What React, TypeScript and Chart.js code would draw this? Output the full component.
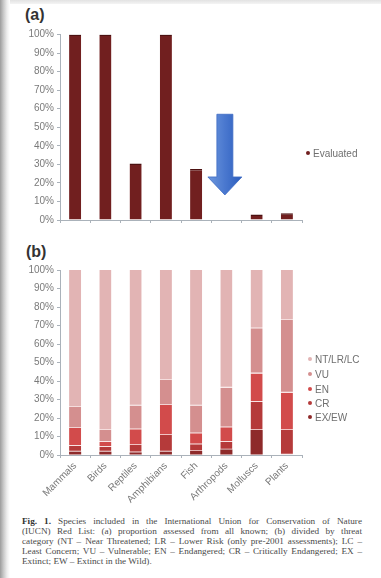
import React, { useEffect, useRef } from "react";
import { Chart, registerables } from "chart.js";

Chart.register(...registerables);

// ---- data ----
const categories = ["Mammals", "Birds", "Reptiles", "Amphibians", "Fish", "Arthropods", "Molluscs", "Plants"];
const evaluatedPct = [100, 100, 30.5, 100, 27.5, 0.3, 3.0, 3.6];

const exEwPct = [1.8, 1.8, 1.4, 1.8, 2.2, 3.0, 13.5, 0.3];
const crPct = [3.2, 2.7, 4.0, 9.0, 3.6, 4.2, 15.3, 13.2];
const enPct = [9.6, 2.7, 8.5, 16.2, 5.9, 7.8, 15.3, 20.2];
const vuPct = [11.3, 6.3, 12.8, 13.5, 15.0, 21.4, 24.4, 39.3];
const ntLrLcPct = [74.1, 86.5, 73.3, 59.5, 73.3, 63.6, 31.5, 27.0];

const threatLabels = ["EX/EW", "CR", "EN", "VU", "NT/LR/LC"];
const threatColors = ["#8e2a2a", "#b53a3a", "#d24b4b", "#d48f8f", "#e2b4b4"];
const evaluatedLabel = "Evaluated";
const evaluatedColor = "#711f1f";

const yTicksMax = 100;
const yTicksStep = 10;

// annotation arrow (pointing at Arthropods in panel a)
const arrowCategory = "Arthropods";
const arrowFromPct = 57;
const arrowToPct = 13.5;

const captionLines = [
  "Species included in the International Union for Conservation of Nature",
  "(IUCN) Red List: (a) proportion assessed from all known; (b) divided by threat",
  "category (NT – Near Threatened; LR – Lower Risk (only pre-2001 assessments); LC –",
  "Least Concern; VU – Vulnerable; EN – Endangered; CR – Critically Endangered; EX –",
  "Extinct; EW – Extinct in the Wild).",
];

const TICK_FONT = { family: "'Liberation Sans', Arial, sans-serif", size: 10 };
const TICK_COLOR = "#7a7a7a";
const AXIS_COLOR = "#aab2ba";

const arrowPlugin = {
  id: "arrowNote",
  afterDatasetsDraw(chart: any) {
    const { ctx } = chart;
    const x = chart.scales.x;
    const y = chart.scales.y;
    const cx = x.getPixelForValue(categories.indexOf(arrowCategory)) - 1.5;
    const top = y.getPixelForValue(arrowFromPct);
    const tip = y.getPixelForValue(arrowToPct);
    const headTop = tip - 18;
    const sh = 8;
    const hh = 17;
    ctx.save();
    const g = ctx.createLinearGradient(cx - hh, 0, cx + hh, 0);
    g.addColorStop(0, "#6e98dd");
    g.addColorStop(0.5, "#4a78cf");
    g.addColorStop(1, "#2b5dbd");
    ctx.beginPath();
    ctx.moveTo(cx - sh, top);
    ctx.lineTo(cx + sh, top);
    ctx.lineTo(cx + sh, headTop);
    ctx.lineTo(cx + hh, headTop);
    ctx.lineTo(cx, tip);
    ctx.lineTo(cx - hh, headTop);
    ctx.lineTo(cx - sh, headTop);
    ctx.closePath();
    ctx.fillStyle = g;
    ctx.fill();
    ctx.strokeStyle = "#3f6cc4";
    ctx.lineWidth = 0.8;
    ctx.stroke();
    ctx.restore();
  },
};

function yAxis(width: number) {
  return {
    min: 0,
    max: yTicksMax,
    ticks: {
      stepSize: yTicksStep,
      callback: (v: any) => v + "%",
      font: TICK_FONT,
      color: TICK_COLOR,
      padding: 3,
    },
    grid: { display: true, drawOnChartArea: false, tickLength: 3, color: AXIS_COLOR },
    border: { display: true, color: AXIS_COLOR, width: 1 },
    afterFit: (s: any) => {
      s.width = width;
    },
  };
}

function ChartA() {
  const ref = useRef<HTMLCanvasElement>(null);
  useEffect(() => {
    const chart = new Chart(ref.current!, {
      type: "bar",
      data: {
        labels: categories,
        datasets: [
          {
            label: evaluatedLabel,
            data: evaluatedPct,
            backgroundColor: evaluatedColor,
            borderColor: "#4c1111",
            borderWidth: { top: 1.5, left: 0, right: 0, bottom: 0 },
            borderSkipped: false,
            barPercentage: 0.8,
            categoryPercentage: 0.5,
          },
        ],
      },
      options: {
        responsive: false,
        animation: false,
        layout: { padding: { top: 34.5, right: 79, bottom: 14, left: 0 } },
        plugins: { legend: { display: false }, tooltip: { enabled: false } },
        scales: {
          x: {
            ticks: { display: false },
            grid: { display: true, drawOnChartArea: false, tickLength: 3, color: AXIS_COLOR, offset: true },
            border: { display: true, color: AXIS_COLOR, width: 1 },
            afterFit: (s: any) => {
              s.height = 6;
            },
          },
          y: yAxis(60) as any,
        },
      },
      plugins: [arrowPlugin],
    });
    return () => chart.destroy();
  }, []);
  return <canvas ref={ref} width={381} height={240} style={{ position: "absolute", left: 0, top: 0, width: 381, height: 240 }} />;
}

function ChartB() {
  const ref = useRef<HTMLCanvasElement>(null);
  useEffect(() => {
    const series = [exEwPct, crPct, enPct, vuPct, ntLrLcPct];
    const chart = new Chart(ref.current!, {
      type: "bar",
      data: {
        labels: categories,
        datasets: series.map((d, i) => ({
          label: threatLabels[i],
          data: d,
          backgroundColor: threatColors[i],
          borderColor: "rgba(245,205,205,0.55)",
          borderWidth: i === 0 ? 0 : { top: 0, bottom: 0.8, left: 0, right: 0 },
          borderSkipped: false,
          barPercentage: 0.8,
          categoryPercentage: 0.5,
        })),
      },
      options: {
        responsive: false,
        animation: false,
        layout: { padding: { top: 30, right: 79, bottom: 5, left: 0 } },
        plugins: { legend: { display: false }, tooltip: { enabled: false } },
        scales: {
          x: {
            stacked: true,
            ticks: {
              font: TICK_FONT,
              color: TICK_COLOR,
              minRotation: 45,
              maxRotation: 45,
              autoSkip: false,
              padding: 2,
            },
            grid: { display: true, drawOnChartArea: false, tickLength: 3, color: AXIS_COLOR, offset: true },
            border: { display: true, color: AXIS_COLOR, width: 1 },
            afterFit: (s: any) => {
              s.height = 50;
            },
          },
          y: { ...(yAxis(60) as any), stacked: true },
        },
      },
    });
    return () => chart.destroy();
  }, []);
  return <canvas ref={ref} width={381} height={270} style={{ position: "absolute", left: 0, top: 240, width: 381, height: 270 }} />;
}

function LegendItem({ color, label, x, y }: { color: string; label: string; x: number; y: number }) {
  return (
    <div style={{ position: "absolute", left: x, top: y - 7, height: 14, display: "flex", alignItems: "center", whiteSpace: "nowrap" }}>
      <span style={{ width: 4, height: 4, borderRadius: 2, background: color, display: "inline-block", marginRight: 3 }} />
      <span style={{ font: "10px 'Liberation Sans', Arial, sans-serif", color: "#6f6f6f" }}>{label}</span>
    </div>
  );
}

export default function App() {
  const legendBY = [359, 374, 389, 403, 417];
  return (
    <div style={{ position: "absolute", left: 0, top: 0, width: 381, height: 578, overflow: "hidden", background: "#ffffff" }}>
      <div style={{ position: "absolute", left: 0, top: 0, width: 381, height: 4, background: "linear-gradient(#e2e2e2, #f4f4f4)" }} />
      <div style={{ position: "absolute", left: 0, top: 0, width: 10, height: 578, background: "linear-gradient(to right, #9c9c9c, #c8c8c8 35%, #ededed 70%, #ffffff)" }} />
      <div style={{ position: "absolute", left: 25, top: 6, font: "bold 16px 'Liberation Sans', Arial, sans-serif", color: "#333" }}>(a)</div>
      <div style={{ position: "absolute", left: 26, top: 243, font: "bold 16px 'Liberation Sans', Arial, sans-serif", color: "#333" }}>(b)</div>
      <ChartA />
      <ChartB />
      <LegendItem color={evaluatedColor} label={evaluatedLabel} x={306} y={153} />
      {threatLabels
        .map((l, i) => ({ l, c: threatColors[i] }))
        .reverse()
        .map((it, k) => (
          <LegendItem key={it.l} color={it.c} label={it.l} x={308} y={legendBY[k]} />
        ))}
      <div
        style={{
          position: "absolute",
          left: 22,
          top: 516,
          width: 340,
          font: "9.2px 'Liberation Serif', 'DejaVu Serif', serif",
          lineHeight: "10px",
          color: "#4a4a4a",
        }}
      >
        {captionLines.map((line, i) => (
          <div
            key={i}
            style={{
              textAlign: i < captionLines.length - 1 ? "justify" : "left",
              textAlignLast: i < captionLines.length - 1 ? "justify" : "left",
              whiteSpace: "nowrap",
            }}
          >
            {i === 0 && <b style={{ color: "#333" }}>Fig. 1. </b>}
            {line}
          </div>
        ))}
      </div>
    </div>
  );
}
